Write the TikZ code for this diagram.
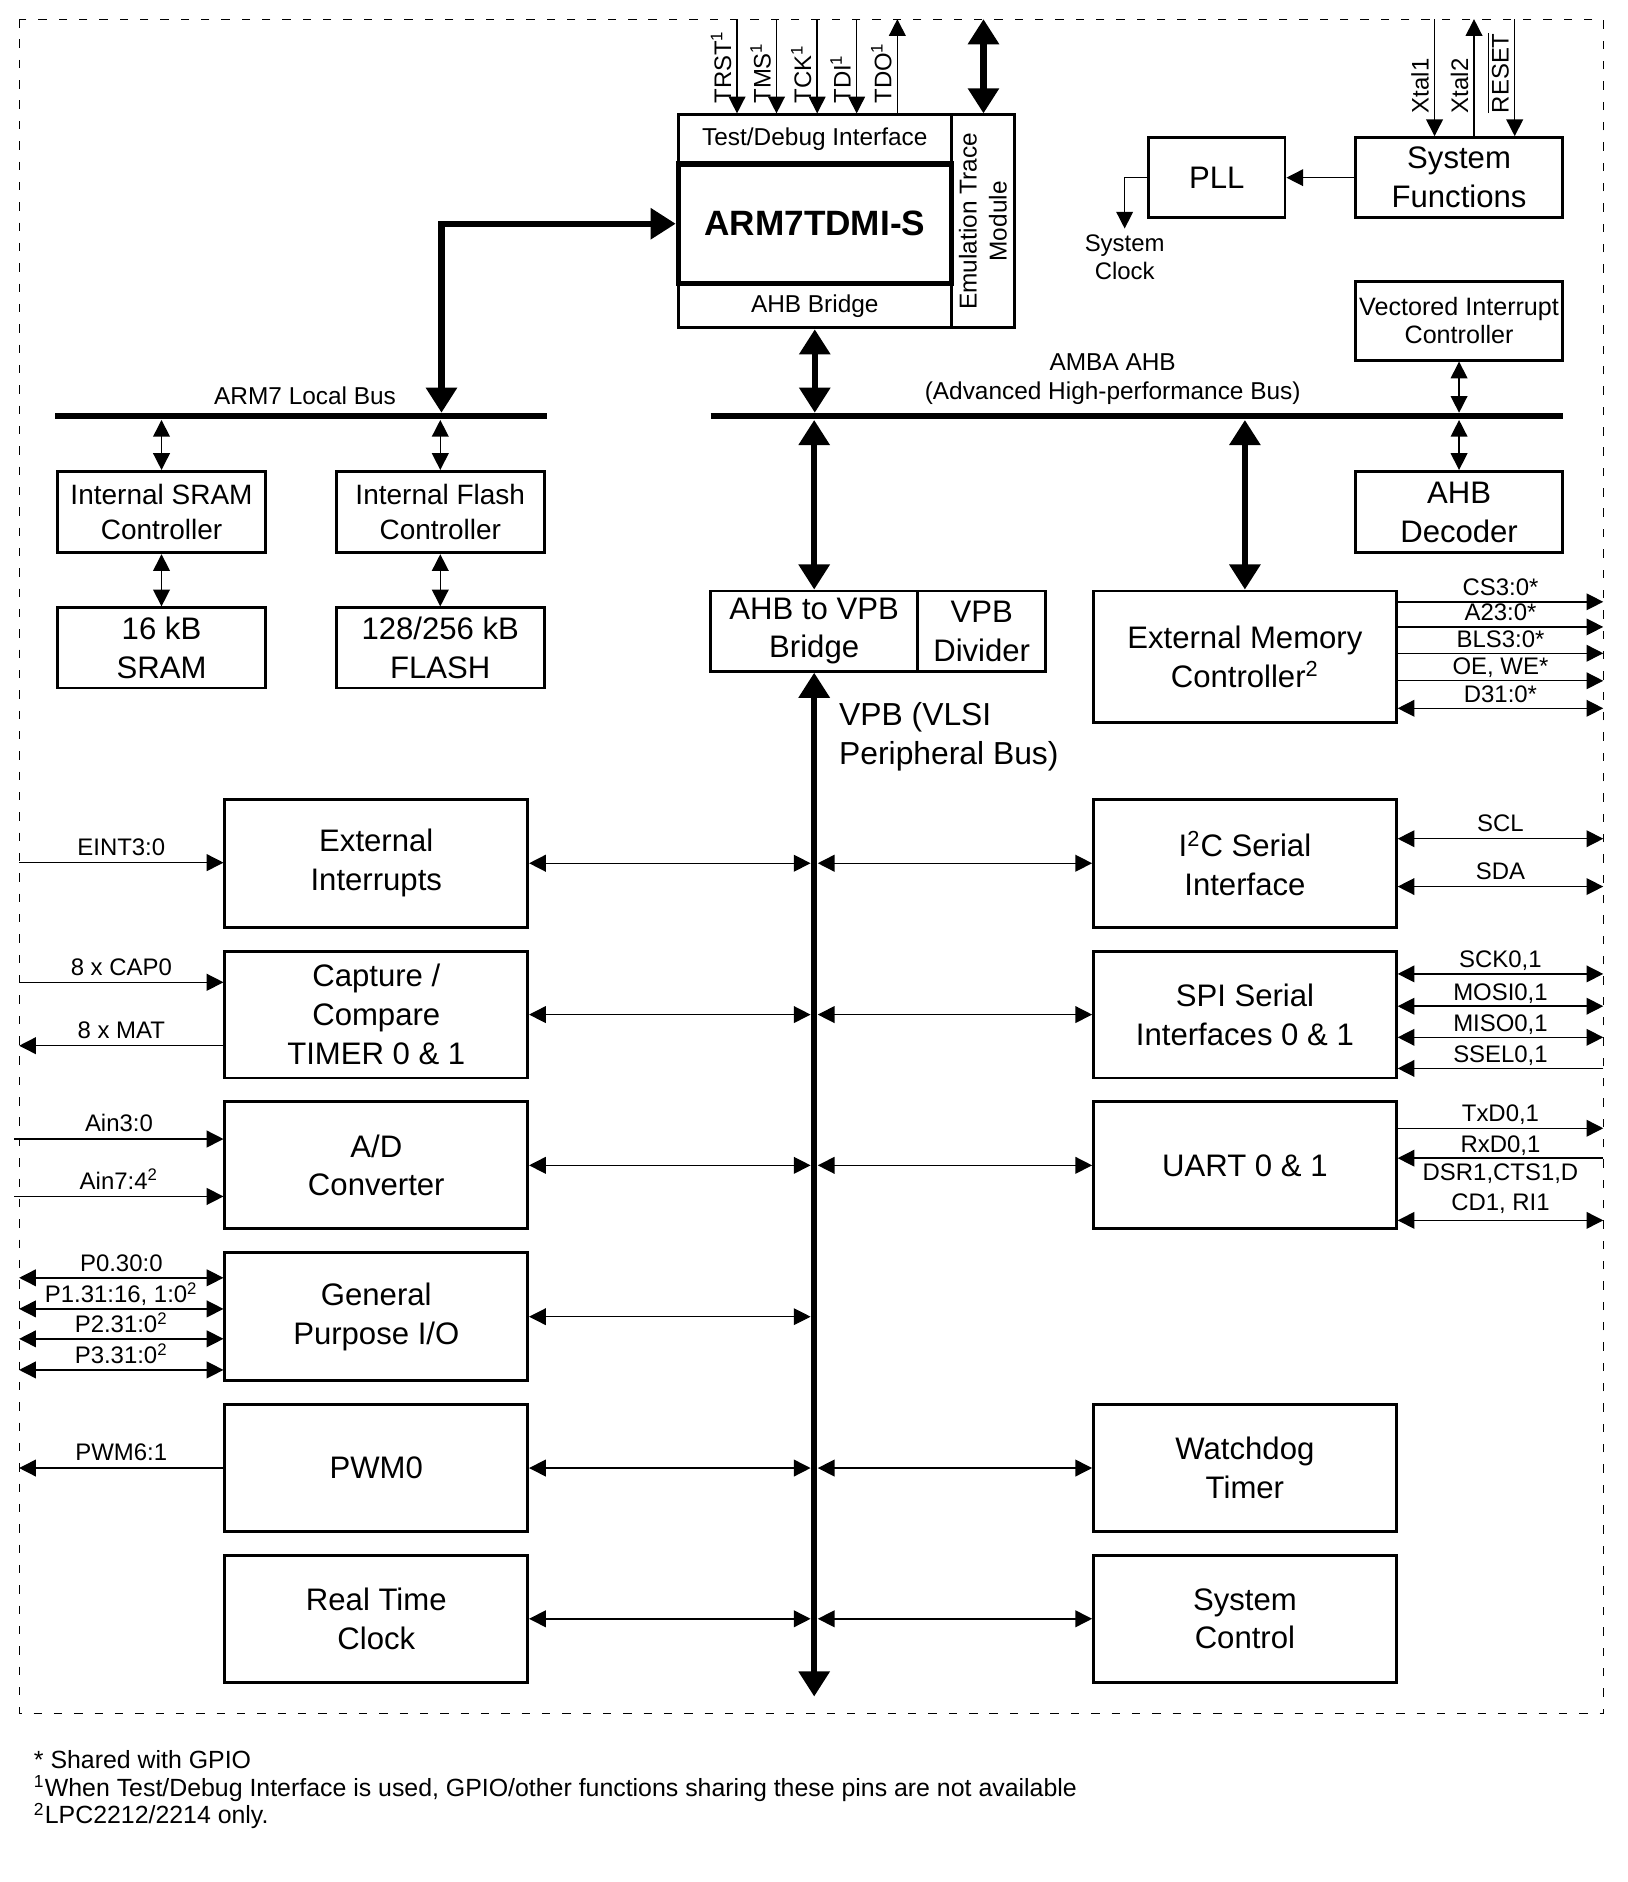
\documentclass[tikz,border=0pt]{standalone}
\usepackage{fontspec}
\setmainfont{Liberation Sans}
\usetikzlibrary{arrows.meta,calc}
\newcommand\fmain{\fontsize{13}{16.2}\selectfont}
\newcommand\fmid{\fontsize{11.7}{14.5}\selectfont}
\newcommand\fsig{\fontsize{10}{12}\selectfont}
\newcommand\fsmall{\fontsize{10.2}{12.2}\selectfont}
% \blk[options]{x1}{y1}{x2}{y2}{name}{text}
\newcommand\blk[7][]{\node[box,#1,minimum width={(#4-#2)*0.5pt},minimum height={(#5-#3)*0.5pt}] (#6) at ({(#2+#4)/2},{(#3+#5)/2}) {#7};}
\begin{document}
\begin{tikzpicture}[x=0.5pt,y=-0.5pt,
  box/.style={draw, line width=1.2pt, inner sep=0pt, align=center, font=\fmain},
  sig/.style={line width=0.6pt},
  bus/.style={line width=2.6pt},
  tT/.tip={Triangle[length=7pt,width=7pt]},
  tB/.tip={Triangle[length=10.5pt,width=12.5pt]},
  lblat/.style={midway, anchor=base, inner sep=0pt, yshift=#1, font=\fsig},
  lbl/.style={lblat=3pt},
  lbl2/.style={lblat=2.5pt},
  pin/.style={rotate=90, anchor=base west, inner sep=0pt, font=\fsig}]
\useasboundingbox (0,0) rectangle (1360,1573);
\draw[line width=0.5pt, dash pattern=on 3.5pt off 5pt] (16,16) rectangle (1340,1432);

% ARM core block
\blk[font=\fsmall]{567}{96}{795}{137}{tdbg}{Test/Debug Interface}
\blk[font=\fsmall]{567}{237}{795}{274}{ahbb}{AHB Bridge}
\blk[line width=2.2pt, font=\fontsize{14.7}{16}\selectfont\bfseries]{567}{137}{795}{237}{arm}{ARM7TDMI-S}
\blk{795}{96}{848}{274}{etm}{}
\node[rotate=90, font=\fontsize{10.2}{12.5}\selectfont, align=center] (etmt) at (etm.center) {Emulation Trace\\Module};

% JTAG pins
\coordinate (pTRST) at (616,16);
\coordinate (pTMS) at (649,16);
\coordinate (pTCK) at (683,16);
\coordinate (pTDI) at (716,16);
\coordinate (pTDO) at (750,16);
\coordinate (pETM) at (822,16);
\draw[sig,-tT] (pTRST) -- (pTRST |- tdbg.north);
\draw[sig,-tT] (pTMS) -- (pTMS |- tdbg.north);
\draw[sig,-tT] (pTCK) -- (pTCK |- tdbg.north);
\draw[sig,-tT] (pTDI) -- (pTDI |- tdbg.north);
\draw[sig,tT-] (pTDO) -- (pTDO |- tdbg.north);
\draw[bus,tB-tB] (pETM) -- (pETM |- etm.north);
\node[pin] (lTRST) at (611,87) {TRST\textsuperscript{1}};
\node[pin] (lTMS) at (644,87) {TMS\textsuperscript{1}};
\node[pin] (lTCK) at (678,87) {TCK\textsuperscript{1}};
\node[pin] (lTDI) at (711,87) {TDI\textsuperscript{1}};
\node[pin] (lTDO) at (745,87) {TDO\textsuperscript{1}};

% ARM7 local bus
\coordinate (lbL) at (46,348);
\coordinate (lbR) at (457,348);
\coordinate (lbA) at (369,345);
\draw[bus] (lbL) -- (lbR);
\node[font=\fsmall] (tLB) at (255,331) {ARM7 Local Bus};
\draw[bus,tB-tB] (lbA) |- (arm.west);

\blk[font=\fmid]{48}{394}{222}{462}{sramc}{Internal SRAM\\Controller}
\blk{48}{508}{222}{575}{sram}{16 kB\\SRAM}
\blk[font=\fmid]{281}{394}{455}{462}{flashc}{Internal Flash\\Controller}
\blk{281}{508}{455}{575}{flash}{128/256 kB\\FLASH}
\draw[sig,tT-tT] ($(sramc.north |- lbL)+(0,3)$) -- (sramc.north);
\draw[sig,tT-tT] (sramc.south) -- (sram.north);
\draw[sig,tT-tT] ($(flashc.north |- lbL)+(0,3)$) -- (flashc.north);
\draw[sig,tT-tT] (flashc.south) -- (flash.north);

% AMBA AHB
\coordinate (amL) at (594,348);
\coordinate (amR) at (1306,348);
\draw[bus] (amL) -- (amR);
\node[font=\fontsize{10.2}{12}\selectfont, align=center] (tAMBA) at (930,317) {AMBA AHB\\(Advanced High-performance Bus)};

\blk{594}{494}{767}{561}{a2v}{AHB to VPB\\Bridge}
\blk{767}{494}{874}{561}{vpbd}{VPB\\Divider}
\blk{914}{494}{1167}{604}{emc}{External Memory\\Controller\textsuperscript{2}}
\draw[bus,tB-tB] (ahbb.south) -- ($(ahbb.south |- amL)+(0,-3)$);
\draw[bus,tB-tB] ($(a2v.north |- amL)+(0,3)$) -- (a2v.north);
\draw[bus,tB-tB] ($(emc.north |- amL)+(0,3)$) -- (emc.north);

% PLL / system functions
\blk{960}{115}{1074}{182}{pll}{PLL}
\blk{1133}{115}{1306}{182}{sysf}{System\\Functions}
\draw[sig,-tT] (sysf.west) -- (pll.east);
\node[font=\fontsize{10}{11.5}\selectfont, align=center, inner sep=0pt] (sclk) at (940,215) {System\\Clock};
\draw[sig,-tT] (pll.west) -| ($(sclk.north)+(0,-5)$);
\coordinate (pX1) at (1199,16);
\coordinate (pX2) at (1232,16);
\coordinate (pRST) at (1266,16);
\draw[sig,-tT] (pX1) -- (pX1 |- sysf.north);
\draw[sig,tT-] (pX2) -- (pX2 |- sysf.north);
\draw[sig,-tT] (pRST) -- (pRST |- sysf.north);
\node[pin] (lX1) at (1194,95) {Xtal1};
\node[pin] (lX2) at (1227,95) {Xtal2};
\node[pin] (lRST) at (1261,95) {$\overline{\mbox{RESET}}$};

\blk[font=\fontsize{10.5}{12}\selectfont]{1133}{235}{1306}{301}{vic}{Vectored Interrupt\\Controller}
\blk{1133}{394}{1306}{462}{ahbd}{AHB\\Decoder}
\draw[sig,tT-tT] (vic.south) -- ($(vic.south |- amL)+(0,-3)$);
\draw[sig,tT-tT] ($(ahbd.north |- amL)+(0,3)$) -- (ahbd.north);

% EMC signals
\coordinate (eCS) at (1340,503);
\coordinate (eA) at (1340,524);
\coordinate (eBLS) at (1340,546);
\coordinate (eOE) at (1340,569);
\coordinate (eD) at (1340,592);
\draw[sig,-tT] (eCS -| emc.east) -- (eCS) node[lbl2] (tCS) {CS3:0*};
\draw[sig,-tT] (eA -| emc.east) -- (eA) node[lbl2] (tA) {A23:0*};
\draw[sig,-tT] (eBLS -| emc.east) -- (eBLS) node[lbl2] (tBLS) {BLS3:0*};
\draw[sig,-tT] (eOE -| emc.east) -- (eOE) node[lbl2] (tOE) {OE, WE*};
\draw[sig,tT-tT] (eD -| emc.east) -- (eD) node[lbl2] (tD) {D31:0*};

% VPB bus
\coordinate (vbot) at (680.5,1418);
\coordinate (bL) at (677.5,0);
\coordinate (bR) at (683.5,0);
\draw[bus,tB-tB] (a2v.south) -- (vbot);
\node[font=\fontsize{13.3}{16}\selectfont, align=left, anchor=north west, inner sep=0pt] (tVPB) at (701,587) {VPB (VLSI\\Peripheral Bus)};

% left peripherals
\blk{188}{668}{441}{775}{ext}{External\\Interrupts}
\blk{188}{795}{441}{901}{cap}{Capture /\\Compare\\TIMER 0 \& 1}
\blk{188}{921}{441}{1027}{adc}{A/D\\Converter}
\blk{188}{1047}{441}{1154}{gpio}{General\\Purpose I/O}
\blk{188}{1174}{441}{1280}{pwm}{PWM0}
\blk{188}{1300}{441}{1406}{rtc}{Real Time\\Clock}
% right peripherals
\blk{914}{668}{1167}{775}{i2c}{I\textsuperscript{2}C Serial\\Interface}
\blk{914}{795}{1167}{901}{spi}{SPI Serial\\Interfaces 0 \& 1}
\blk{914}{921}{1167}{1027}{uart}{UART 0 \& 1}
\blk{914}{1174}{1167}{1280}{wdt}{Watchdog\\Timer}
\blk{914}{1300}{1167}{1406}{sysc}{System\\Control}

% bus connections
\draw[sig,tT-tT] (ext.east) -- (ext.east -| bL);
\draw[sig,tT-tT] (cap.east) -- (cap.east -| bL);
\draw[sig,tT-tT] (adc.east) -- (adc.east -| bL);
\draw[line width=0.4pt,tT-tT] (gpio.east) -- (gpio.east -| bL);
\draw[sig,tT-tT] (pwm.east) -- (pwm.east -| bL);
\draw[sig,tT-tT] (rtc.east) -- (rtc.east -| bL);
\draw[sig,tT-tT] (i2c.west -| bR) -- (i2c.west);
\draw[sig,tT-tT] (spi.west -| bR) -- (spi.west);
\draw[sig,tT-tT] (uart.west -| bR) -- (uart.west);
\draw[sig,tT-tT] (wdt.west -| bR) -- (wdt.west);
\draw[sig,tT-tT] (sysc.west -| bR) -- (sysc.west);

% left signals
\coordinate (lEINT) at (16,721);
\coordinate (lCAP) at (16,821);
\coordinate (lMAT) at (16,874);
\coordinate (lAin1) at (12,952);
\coordinate (lAin2) at (12,1000);
\coordinate (lP0) at (16,1068);
\coordinate (lP1) at (16,1094);
\coordinate (lP2) at (16,1119);
\coordinate (lP3) at (16,1145);
\coordinate (lPWM) at (16,1227);
\draw[sig,-tT] (lEINT) -- (lEINT -| ext.west) node[lbl] (tEINT) {EINT3:0};
\draw[sig,-tT] (lCAP) -- (lCAP -| cap.west) node[lbl] (tCAP) {8 x CAP0};
\draw[sig,-tT] (lMAT -| cap.west) -- (lMAT) node[lbl] (tMAT) {8 x MAT};
\draw[sig,-tT] (lAin1) -- (lAin1 -| adc.west) node[lbl] (tAin1) {Ain3:0};
\draw[sig,-tT] (lAin2) -- (lAin2 -| adc.west) node[lbl] (tAin2) {Ain7:4\textsuperscript{2}};
\draw[sig,tT-tT] (lP0) -- (lP0 -| gpio.west) node[lbl2] (tP0) {P0.30:0};
\draw[sig,tT-tT] (lP1) -- (lP1 -| gpio.west) node[lbl2] (tP1) {P1.31:16, 1:0\textsuperscript{2}};
\draw[sig,tT-tT] (lP2) -- (lP2 -| gpio.west) node[lbl2] (tP2) {P2.31:0\textsuperscript{2}};
\draw[sig,tT-tT] (lP3) -- (lP3 -| gpio.west) node[lbl2] (tP3) {P3.31:0\textsuperscript{2}};
\draw[sig,-tT] (lPWM -| pwm.west) -- (lPWM) node[lbl] (tPWM) {PWM6:1};

% right signals
\coordinate (rSCL) at (1340,701);
\coordinate (rSDA) at (1340,741);
\coordinate (rSCK) at (1340,814);
\coordinate (rMOSI) at (1340,841);
\coordinate (rMISO) at (1340,867);
\coordinate (rSSEL) at (1340,893);
\coordinate (rTxD) at (1340,943);
\coordinate (rRxD) at (1340,968);
\coordinate (rDCD) at (1340,1020);
\draw[sig,tT-tT] (rSCL -| i2c.east) -- (rSCL) node[lbl] (tSCL) {SCL};
\draw[sig,tT-tT] (rSDA -| i2c.east) -- (rSDA) node[lbl] (tSDA) {SDA};
\draw[sig,tT-tT] (rSCK -| spi.east) -- (rSCK) node[lbl2] (tSCK) {SCK0,1};
\draw[sig,tT-tT] (rMOSI -| spi.east) -- (rMOSI) node[lbl2] (tMOSI) {MOSI0,1};
\draw[sig,tT-tT] (rMISO -| spi.east) -- (rMISO) node[lbl2] (tMISO) {MISO0,1};
\draw[sig,-tT] (rSSEL) -- (rSSEL -| spi.east) node[lbl2] (tSSEL) {SSEL0,1};
\draw[sig,-tT] (rTxD -| uart.east) -- (rTxD) node[lbl] (tTxD) {TxD0,1};
\draw[sig,-tT] (rRxD) -- (rRxD -| uart.east) node[lbl2] (tRxD) {RxD0,1};
\draw[sig,tT-tT] (rDCD -| uart.east) -- (rDCD) node[lblat=4pt] (tDCD2) {CD1, RI1} node[lblat=16.5pt] (tDCD1) {DSR1,CTS1,D};

% footnotes
\node[font=\fontsize{10.4}{11.5}\selectfont, align=left, anchor=north west, inner sep=0pt] (fn) at (28,1463) {* Shared with GPIO\\\textsuperscript{1}When Test/Debug Interface is used, GPIO/other functions sharing these pins are not available\\\textsuperscript{2}LPC2212/2214 only.};
\end{tikzpicture}
\end{document}
